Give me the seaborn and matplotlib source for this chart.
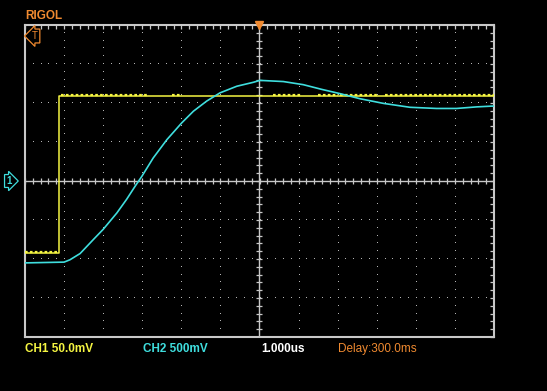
import numpy as np
import pandas as pd
import matplotlib
matplotlib.use("Agg")
import matplotlib.pyplot as plt
import matplotlib.transforms as mtransforms
import seaborn as sns

# ---- data (x in divisions of 1.000us, y in vertical divisions) ----
ch2_x = [-6.0, -5.5, -5.0, -4.85, -4.59, -4.25, -4.0, -3.65, -3.4, -3.18, -3.01,
         -2.72, -2.37, -1.99, -1.69, -1.35, -1.01, -0.58, -0.16, 0.01, 0.61,
         1.12, 1.59, 2.06, 2.57, 3.17, 3.85, 4.53, 5.04, 5.55, 5.94, 6.0]
ch2_y = [-2.10, -2.09, -2.08, -2.02, -1.86, -1.50, -1.24, -0.82, -0.47, -0.13, 0.12,
         0.59, 1.06, 1.49, 1.79, 2.05, 2.26, 2.43, 2.53, 2.58, 2.55,
         2.47, 2.35, 2.24, 2.11, 1.99, 1.89, 1.86, 1.86, 1.90, 1.92, 1.92]

ch1_x = [-6.0, -5.13, -5.13, 6.0]
ch1_y = [-1.84, -1.84, 2.17, 2.17]

# noisy stretches of CH1 (start, end, level)
ch1_noise = [(-6.0, -5.15, -1.84), (-5.07, -2.85, 2.17), (-2.25, -1.98, 2.17),
             (0.35, 1.05, 2.17), (1.5, 2.0, 2.17), (2.05, 3.0, 2.17), (3.2, 6.0, 2.17)]

labels = ["CH1 50.0mV", "CH2 500mV", "1.000us", "Delay:300.0ms"]

YELLOW = "#f5f542"
CYAN = "#3fdede"
ORANGE = "#f08a30"
GRAY = "#c8c8c8"
DOT = "#b4b4b4"

sns.set_style("dark")
plt.rcParams["font.family"] = ["Liberation Sans", "DejaVu Sans"]

W, H = 547, 391
fig = plt.figure(figsize=(W / 100, H / 100), dpi=100, facecolor="black")
ax = fig.add_axes([25 / W, 54 / H, 469 / W, 312 / H], facecolor="black")

df1 = pd.DataFrame({"t": ch1_x, "v": ch1_y})
df2 = pd.DataFrame({"t": ch2_x, "v": ch2_y})

ax.set_xlim(-6, 6)
ax.set_ylim(-4, 4)

# grid dots (one pixel each, every 1/5 division along each grid line)
tx = np.arange(-6, 6.001, 0.2)
ty = np.arange(-4, 4.001, 0.2)
for xv in range(-5, 6):
    if xv != 0:
        ax.plot(np.full_like(ty, xv), ty, ls="none", marker=",", color=DOT, zorder=1)
for yv in range(-3, 4):
    if yv != 0:
        ax.plot(tx, np.full_like(tx, yv), ls="none", marker=",", color=DOT, zorder=1)
# center axes with ticks
ax.axhline(0, color=GRAY, lw=1.0, zorder=1)
ax.axvline(0, color=GRAY, lw=1.0, zorder=1)
ax.plot(tx, np.zeros_like(tx), ls="none", marker="|", ms=5, mew=0.9, color=GRAY, zorder=1)
ax.plot(np.zeros_like(ty), ty, ls="none", marker="_", ms=5, mew=0.9, color=GRAY, zorder=1)

# traces
sns.lineplot(data=df1, x="t", y="v", ax=ax, color=YELLOW, lw=1.1, sort=False,
             estimator=None, zorder=3)
off = mtransforms.offset_copy(ax.transData, fig=fig, x=0, y=1.2, units="dots")
for a, b, lvl in ch1_noise:
    ax.plot([a, b], [lvl, lvl], color=YELLOW, lw=1.6, ls=(0, (1.2, 1.0)),
            transform=off, zorder=3)
sns.lineplot(data=df2, x="t", y="v", ax=ax, color=CYAN, lw=1.2, sort=False,
             estimator=None, zorder=4)

# frame
for s in ax.spines.values():
    s.set_color(GRAY)
    s.set_linewidth(1.5)
ax.set_xticks(np.arange(-6, 6.001, 1))
ax.set_yticks(np.arange(-4, 4.001, 1))
ax.set_xticks(tx, minor=True)
ax.set_yticks(ty, minor=True)
ax.tick_params(which="both", direction="in", length=3, width=0.9, color=GRAY,
               top=True, right=True, labelbottom=False, labelleft=False)
ax.set_xlabel("")
ax.set_ylabel("")
ax.grid(False)

# markers
ax.plot([0], [4], marker="v", ms=6, color=ORANGE, clip_on=False, zorder=6)
fig.text(6 / W, 1 - 181 / H, "1", color=CYAN, fontsize=7, fontweight="bold",
         va="center", ha="left",
         bbox=dict(boxstyle="rarrow,pad=0.15", fc="black", ec=CYAN, lw=0.9))
fig.text(32 / W, 1 - 36 / H, "T", color=ORANGE, fontsize=7,
         va="center", ha="left",
         bbox=dict(boxstyle="larrow,pad=0.2", fc="black", ec=ORANGE, lw=0.9))

# texts
fig.text(25 / W, 1 - 16 / H, "RIGOL", color=ORANGE, fontsize=8.5,
         fontweight="bold", va="center", ha="left")
fig.text(25 / W, 1 - 349 / H, labels[0], color=YELLOW, fontsize=8.5,
         fontweight="bold", va="center", ha="left")
fig.text(143 / W, 1 - 349 / H, labels[1], color=CYAN, fontsize=8.5,
         fontweight="bold", va="center", ha="left")
fig.text(261 / W, 1 - 349 / H, labels[2], color="white", fontsize=8.5,
         fontweight="bold", va="center", ha="left")
fig.text(338 / W, 1 - 349 / H, labels[3], color=ORANGE, fontsize=8.5,
         family=["Liberation Sans Narrow", "Liberation Sans"],
         va="center", ha="left")

fig.savefig("out.png", dpi=100, facecolor="black")
